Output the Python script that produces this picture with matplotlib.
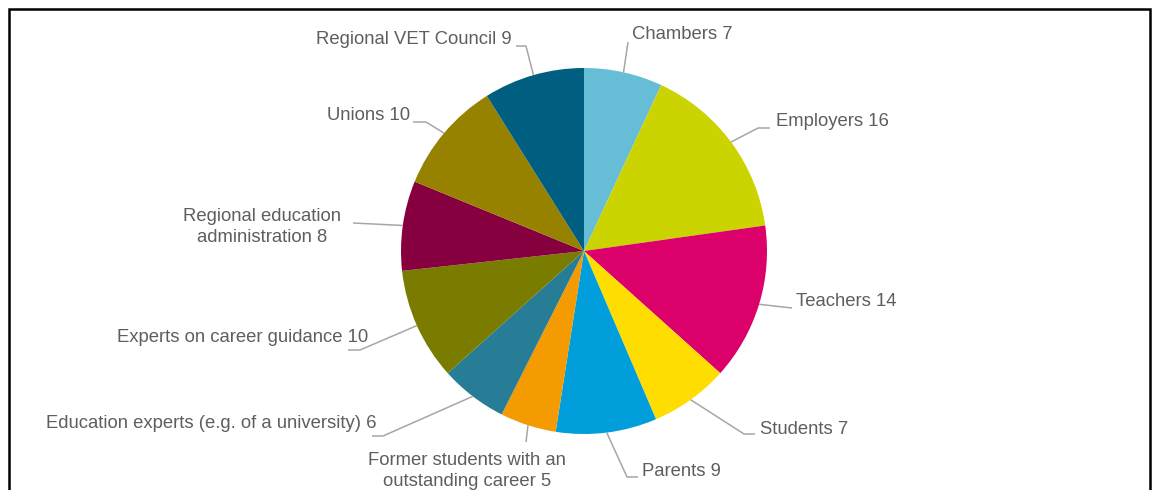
import numpy as np
import matplotlib
matplotlib.use("Agg")
import matplotlib.pyplot as plt
from matplotlib.patches import Rectangle

# ---- data ----
categories = ["Chambers", "Employers", "Teachers", "Students", "Parents",
              "Former students with an\noutstanding career", "Education experts (e.g. of a university)",
              "Experts on career guidance", "Regional education\nadministration", "Unions",
              "Regional VET Council"]
values = [7, 16, 14, 7, 9, 5, 6, 10, 8, 10, 9]
colors = ["#65BDD6", "#CBD300", "#DC006B", "#FFDD00", "#009FDB", "#F39B00",
          "#287D96", "#7A7C00", "#86003F", "#978200", "#005E80"]

# ---- layout (pixel coordinates, top-left origin) ----
W, H = 1158, 490
CX, CY, R = 584, 251, 183
# elbow point, end point of leader, text anchor, ha
layout = [
    ((628, 42), (628, 42), (632, 35), "left"),
    ((758, 128), (770, 128), (776, 122), "left"),
    ((792, 308), (792, 308), (796, 302), "left"),
    ((744, 434), (755, 434), (760, 429), "left"),
    ((627, 477), (638, 477), (642, 471), "left"),
    ((526, 442), (526, 442), (467, 471), "center"),
    ((383, 436), (372, 436), (377, 423), "right"),
    ((360, 350), (348, 350), (368, 337), "right"),
    ((353, 223), (353, 223), (262, 227), "center"),
    ((426, 122), (413, 122), (410, 116), "right"),
    ((526, 46), (516, 46), (512, 40), "right"),
]

def P(x, y):
    return x, H - y

fig = plt.figure(figsize=(W / 100, H / 100), dpi=100)
ax = fig.add_axes([0, 0, 1, 1])

wedges, _ = ax.pie(values, colors=colors, startangle=90, counterclock=False,
                   center=P(CX, CY), radius=R, frame=True,
                   wedgeprops=dict(linewidth=0))
ax.set_xlim(0, W)
ax.set_ylim(0, H)
ax.set_aspect("auto")
ax.axis("off")

for w, cat, val, (elb, end, txt, ha) in zip(wedges, categories, values, layout):
    mid = np.deg2rad((w.theta1 + w.theta2) / 2)
    ax0 = CX + R * np.cos(mid)
    ay0 = CY - R * np.sin(mid)
    xs = [ax0, elb[0], end[0]]
    ys = [H - ay0, H - elb[1], H - end[1]]
    ax.plot(xs, ys, color="#A6A6A6", lw=1.1, solid_capstyle="butt")
    ax.text(txt[0], H - txt[1], f"{cat} {val}", ha=ha, va="center",
            multialignment="center", fontsize=13.3, color="#5E5E5E",
            family="Liberation Sans", linespacing=1.25)

ax.add_patch(Rectangle(P(9, 520), 1141, 520 - 9, fill=False, edgecolor="black",
                       linewidth=1.8))

fig.savefig("out.png", dpi=100)
